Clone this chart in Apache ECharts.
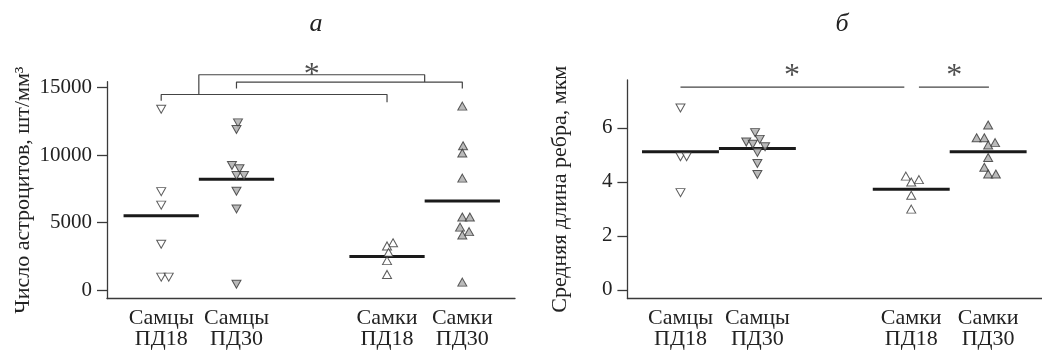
<!DOCTYPE html>
<html>
<head>
<meta charset="utf-8">
<script src="https://cdn.jsdelivr.net/npm/echarts@6/dist/echarts.min.js"></script>
<style>
html,body{margin:0;padding:0;background:#fff;}
#c{width:1042px;height:350px;}
</style>
</head>
<body>
<div id="c"></div>
<script>
// ---------- DATA ----------
const categories = ['Самцы\nПД18', 'Самцы\nПД30', 'Самки\nПД18', 'Самки\nПД30'];
const catPos = [1, 2, 4, 5];
const filled = [false, true, false, true];
const pointDown = [true, true, false, false];

// Panel а: number of astrocytes
const aValues = [
  [13400, 7300, 6300, 3400, 970, 970],
  [12390, 11900, 9230, 8990, 8500, 8500, 7330, 6020, 440],
  [3520, 3280, 2790, 2190, 1170],
  [13630, 10700, 10160, 8300, 5420, 5420, 4670, 4340, 4090, 600]
];
const aJitter = [
  [0, 0, 0, 0, 0, 0.1],
  [0.02, 0, -0.06, 0.04, 0, 0.1, 0, 0, 0],
  [0.08, 0, 0.02, 0, 0],
  [0, 0.01, 0, 0, 0, 0.1, -0.03, 0.09, 0, 0]
];
const aMeans = [5510, 8207, 2500, 6603];
const aTicks = [0, 5000, 10000, 15000];

// Panel б: mean edge length
const bValues = [
  [6.73, 4.93, 4.93, 3.60],
  [5.82, 5.57, 5.47, 5.39, 5.30, 5.09, 4.68, 4.27],
  [4.21, 4.08, 3.99, 3.50, 2.99],
  [6.10, 5.63, 5.63, 5.45, 5.36, 4.90, 4.54, 4.29, 4.29]
];
const bJitter = [
  [0, 0, 0.08, 0],
  [-0.03, 0.03, -0.145, -0.06, 0.1, 0, 0, 0],
  [-0.07, 0.1, 0, 0, 0],
  [0, -0.15, -0.05, 0.09, 0, 0, -0.05, 0, 0.1]
];
const bMeans = [5.11, 5.23, 3.72, 5.11];
const bTicks = [0, 2, 4, 6];

// Significance annotations (data coordinates)
const aBrackets = [
  [[1, 14020], [1, 14490], [4, 14490], [4, 13910]],
  [[2, 14930], [2, 15410], [5, 15410], [5, 14930]],
  [[1.5, 14490], [1.5, 15950], [4.5, 15950], [4.5, 15410]]
];
const aStars = [[3.0, 15900]];
const bBrackets = [
  [[1, 7.5], [3.91, 7.5]],
  [[4.1, 7.5], [5.01, 7.5]]
];
const bStars = [[2.45, 7.88], [4.56, 7.88]];

// ---------- CHART ----------
const FONT = '"Liberation Serif", "DejaVu Serif", serif';
const AXIS_COLOR = '#3a3a3a';

function pointSeries(values, jitter, idx) {
  return values.map((vals, g) => ({
    type: 'scatter',
    xAxisIndex: idx, yAxisIndex: idx,
    symbol: 'triangle',
    symbolRotate: pointDown[g] ? 180 : 0,
    symbolSize: [9, 8],
    itemStyle: {
      color: filled[g] ? '#a9a9a9' : '#ffffff',
      borderColor: '#333333',
      borderWidth: 1
    },
    z: 5,
    silent: true,
    data: vals.map((v, i) => [catPos[g] + jitter[g][i], v])
  }));
}
function meanSeries(means, idx) {
  return means.map((m, g) => ({
    type: 'line',
    xAxisIndex: idx, yAxisIndex: idx,
    symbol: 'none',
    lineStyle: { color: '#1a1a1a', width: 3 },
    z: 3,
    silent: true,
    data: [[catPos[g] - 0.5, m], [catPos[g] + 0.5, m]]
  }));
}
function bracketSeries(brackets, idx) {
  return brackets.map(b => ({
    type: 'line',
    xAxisIndex: idx, yAxisIndex: idx,
    symbol: 'none',
    clip: false,
    lineStyle: { color: '#444', width: 1.2 },
    silent: true,
    data: b
  }));
}
function starSeries(stars, idx) {
  return {
    type: 'scatter',
    xAxisIndex: idx, yAxisIndex: idx,
    symbolSize: 0,
    clip: false,
    silent: true,
    label: {
      show: true, position: 'inside', formatter: '*',
      fontFamily: FONT, fontSize: 32, color: '#222'
    },
    data: stars
  };
}
function xAxis(idx, min, max) {
  return {
    type: 'value', gridIndex: idx, min: min, max: max,
    axisLine: { show: true, onZero: false, lineStyle: { color: AXIS_COLOR, width: 1.3 } },
    axisTick: { show: false },
    splitLine: { show: false },
    axisLabel: {
      customValues: catPos,
      formatter: v => categories[catPos.indexOf(v)] || '',
      fontFamily: FONT, fontSize: 22, color: '#222', lineHeight: 21, margin: 9
    }
  };
}
function yAxis(idx, min, max, ticks, name, gap) {
  return {
    type: 'value', gridIndex: idx, min: min, max: max,
    name: name, nameLocation: 'middle', nameGap: gap, nameRotate: 90,
    nameTextStyle: { fontFamily: FONT, fontSize: 22, color: '#222' },
    axisLine: { show: true, onZero: false, lineStyle: { color: AXIS_COLOR, width: 1.3 } },
    axisTick: { show: true, customValues: ticks, length: 10, lineStyle: { color: AXIS_COLOR, width: 1.3 } },
    splitLine: { show: false },
    axisLabel: { customValues: ticks, formatter: v => String(v),
      fontFamily: FONT, fontSize: 21, color: '#222', margin: 15 }
  };
}

const chart = echarts.init(document.getElementById('c'), null, { renderer: 'canvas' });
chart.setOption({
  animation: false,
  backgroundColor: '#ffffff',
  title: [
    { text: 'а', left: 311, top: 6, textAlign: 'center',
      textStyle: { fontFamily: FONT, fontStyle: 'italic', fontWeight: 'normal', fontSize: 26, color: '#222' } },
    { text: 'б', left: 837, top: 6, textAlign: 'center',
      textStyle: { fontFamily: FONT, fontStyle: 'italic', fontWeight: 'normal', fontSize: 26, color: '#222' } }
  ],
  grid: [
    { left: 107, top: 81.7, width: 408, height: 220 },
    { left: 627.4, top: 80, width: 425, height: 221 }
  ],
  xAxis: [xAxis(0, 0.28, 5.7), xAxis(1, 0.31, 5.7)],
  yAxis: [
    yAxis(0, -612, 15437, aTicks, 'Число астроцитов, шт/мм³', 73),
    yAxis(1, -0.318, 7.767, bTicks, 'Средняя длина ребра, мкм', 56)
  ],
  series: [].concat(
    meanSeries(aMeans, 0), pointSeries(aValues, aJitter, 0),
    bracketSeries(aBrackets, 0), [starSeries(aStars, 0)],
    meanSeries(bMeans, 1), pointSeries(bValues, bJitter, 1),
    bracketSeries(bBrackets, 1), [starSeries(bStars, 1)]
  )
});
</script>
</body>
</html>
